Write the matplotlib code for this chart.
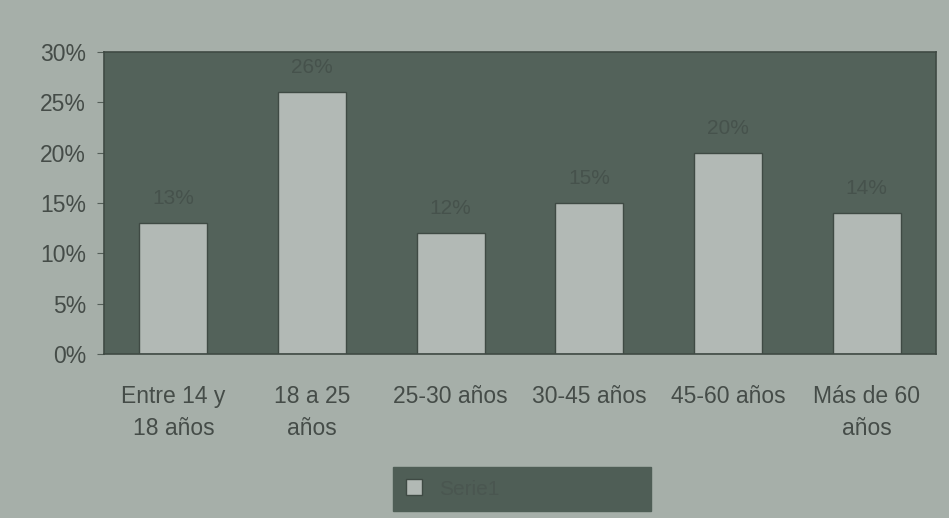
import matplotlib
matplotlib.use("Agg")
import matplotlib.pyplot as plt
from matplotlib.ticker import PercentFormatter

categories = ["Entre 14 y\n18 años", "18 a 25\naños", "25-30 años", "30-45 años", "45-60 años", "Más de 60\naños"]
values = [13, 26, 12, 15, 20, 14]
yticks = [0, 5, 10, 15, 20, 25, 30]
series_name = "Serie1"

plt.rcParams['font.family'] = ['Liberation Sans', 'DejaVu Sans']

fig = plt.figure(figsize=(9.49, 5.18), dpi=100)
fig.patch.set_facecolor('#a6afa9')
ax = fig.add_axes([0.1096, 0.3166, 0.8767, 0.583])
ax.set_facecolor('#53625a')

x = list(range(len(categories)))
bars = ax.bar(x, values, width=0.49, color='#b2b9b5', edgecolor='#3f4a44', linewidth=1.0, label=series_name)

for xi, v in zip(x, values):
    ax.text(xi, v + 1.5, f"{v}%", ha='center', va='bottom', fontsize=15, color='#46524c')

ax.set_xlim(-0.5, len(categories) - 0.5)
ax.set_ylim(0, 30)
ax.set_yticks(yticks)
ax.yaxis.set_major_formatter(PercentFormatter(decimals=0))
ax.set_xticks(x)
ax.set_xticklabels(categories, fontsize=16.5, color='#454c48', linespacing=1.5)
ax.tick_params(axis='y', labelsize=16.5, labelcolor='#454c48', length=5, color='#555f59', pad=8)
ax.tick_params(axis='x', length=0, pad=22)
for s in ax.spines.values():
    s.set_color('#3f4a44')
    s.set_linewidth(1.2)

leg = fig.legend(loc='center', bbox_to_anchor=(393 / 949, 1 - 510 / 518, 258 / 949, 42 / 518),
                 mode='expand', frameon=True, fontsize=15, borderaxespad=0,
                 handlelength=0.8, handleheight=0.8, borderpad=0.6, labelcolor='#4a5650')
leg.get_frame().set_facecolor('#4f5e56')
leg.get_frame().set_edgecolor('#4f5e56')
leg.get_frame().set_alpha(1.0)
leg.get_frame().set_boxstyle('square', pad=0.0)

fig.savefig('out.png', dpi=100, facecolor=fig.get_facecolor())
